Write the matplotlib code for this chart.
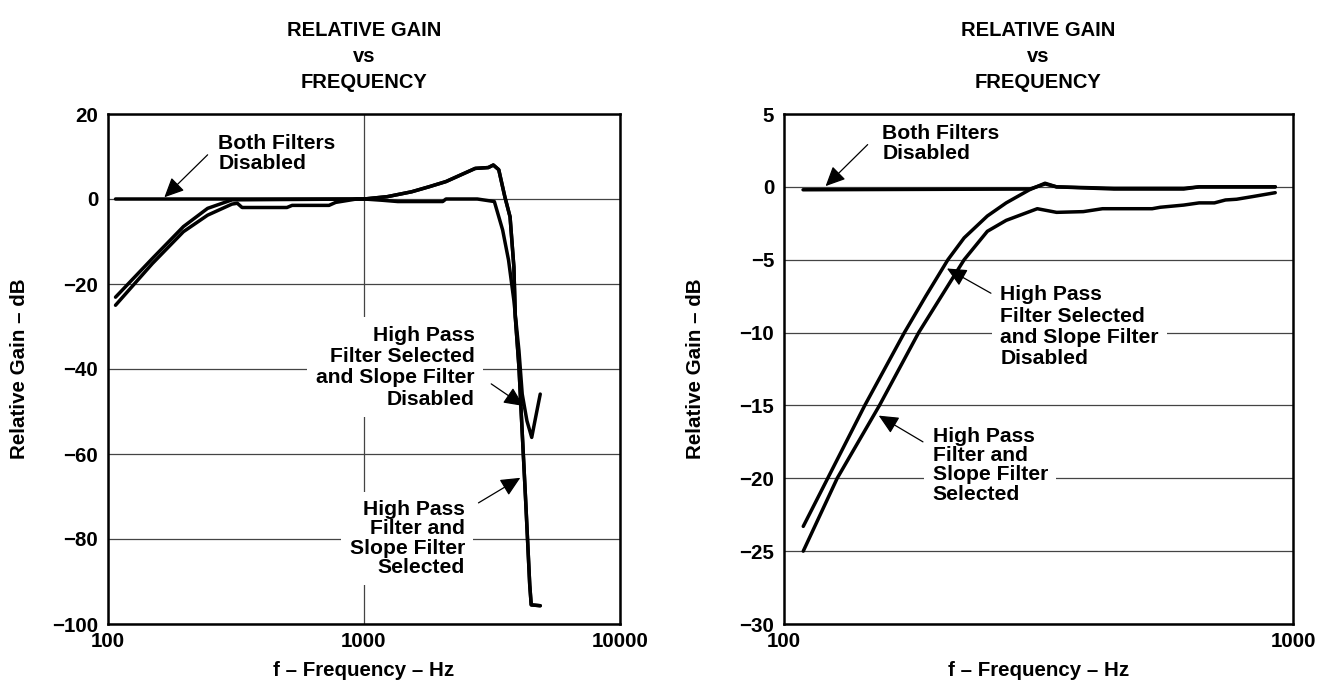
import numpy as np
import matplotlib
matplotlib.use("Agg")
import matplotlib.pyplot as plt
from matplotlib.ticker import NullLocator

plt.rcParams['font.family'] = ['Liberation Sans', 'DejaVu Sans']
plt.rcParams['font.weight'] = 'bold'
plt.rcParams['axes.labelweight'] = 'bold'

# ---- left chart: 100 Hz .. 10 kHz ----
left_both_f = [107, 1000, 1233, 1535, 1800, 2090, 2720, 3060, 3200, 3360, 3550, 3720,
               3850, 3900, 4030, 4150, 4280, 4440, 4500, 4880]
left_both_g = [0, 0, 0.55, 1.7, 2.9, 4.1, 7.2, 7.4, 8.0, 6.9, 0.5, -4.2,
               -16, -27.8, -39.6, -55, -70.9, -90.8, -95.5, -95.7]

left_hp_f = [107, 149, 197, 245, 305, 1000, 1180, 1355, 2030, 2090, 2770, 3230,
             3480, 3670, 3850, 4030, 4150, 4330, 4520, 4660, 4880]
left_hp_g = [-23.1, -14, -6.5, -2.2, -0.2, 0, -0.3, -0.6, -0.6, 0, 0, -0.6,
             -7.3, -14.4, -23.9, -35.7, -45.9, -52.2, -56.1, -52, -45.9]

left_hps_f = [107, 149, 197, 245, 305, 320, 334, 500, 524, 730, 775, 935, 1000,
              1233, 1535, 1800, 2090, 2720, 3060, 3200, 3360, 3550, 3720,
              3850, 3900, 4030, 4150, 4280, 4440, 4500, 4880]
left_hps_g = [-25, -15.2, -7.7, -3.8, -1.2, -1.0, -2, -2, -1.5, -1.5, -0.8, 0, 0,
              0.55, 1.7, 2.9, 4.1, 7.2, 7.4, 8.0, 6.9, 0.5, -4.2,
              -16, -27.8, -39.6, -55, -70.9, -90.8, -95.5, -95.7]

# ---- right chart: 100 Hz .. 1 kHz ----
right_both_f = [109, 304, 326, 343, 445, 610, 654, 923]
right_both_g = [-0.2, -0.15, 0.2, 0, -0.15, -0.15, 0, 0]

right_hp_f = [109.1, 144.1, 172.4, 189.9, 209.9, 225.9, 250.9, 273.2, 303.6,
              325.7, 343.2, 445, 610, 654, 923]
right_hp_g = [-23.3, -15, -10, -7.5, -5, -3.5, -2, -1.1, -0.2,
              0.25, 0, -0.1, -0.1, 0, 0]

right_hps_f = [109.1, 127.2, 154.0, 183.9, 225.9, 250.9, 273.2, 314.5, 343.2, 387.2,
               422.4, 528.8, 548.6, 610, 654, 700.8, 736.9, 774.8, 832.3, 922.8]
right_hps_g = [-25, -20, -15, -10, -5, -3.05, -2.3, -1.5, -1.75, -1.7,
               -1.5, -1.5, -1.4, -1.25, -1.1, -1.1, -0.9, -0.85, -0.67, -0.4]

label_both = "Both Filters\nDisabled"
label_hp = "High Pass\nFilter Selected\nand Slope Filter\nDisabled"
label_hps = "High Pass\nFilter and\nSlope Filter\nSelected"

FS = 14.8
fig = plt.figure(figsize=(13.19, 6.83), dpi=100)
axL = fig.add_axes([108 / 1319, 59 / 683, 512 / 1319, 510 / 683])
axR = fig.add_axes([784 / 1319, 59 / 683, 509 / 1319, 510 / 683])


def style_axis(ax, xlim, ylim, yticks, xticks, vgrid):
    ax.set_xscale('log')
    ax.set_xlim(*xlim)
    ax.set_ylim(*ylim)
    ax.set_yticks(yticks)
    ax.set_xticks(xticks)
    ax.set_xticklabels([str(t) for t in xticks])
    ax.xaxis.set_minor_locator(NullLocator())
    ax.tick_params(length=0, labelsize=FS)
    ax.tick_params(axis='y', pad=7)
    ax.tick_params(axis='x', pad=6)
    ax.yaxis.grid(True, color='#444444', lw=0.9)
    if vgrid:
        ax.xaxis.grid(True, color='#444444', lw=0.9)
    ax.set_axisbelow(True)
    for s in ax.spines.values():
        s.set_linewidth(1.8)
    ax.set_xlabel("f \u2013 Frequency \u2013 Hz", fontsize=FS)
    ax.set_ylabel("Relative Gain \u2013 dB", fontsize=FS)
    ax.xaxis.set_label_coords(0.5, -0.072)
    ax.yaxis.set_label_coords(-0.155, 0.5)
    ax.set_title("RELATIVE GAIN\nvs\nFREQUENCY", fontsize=14.5, fontweight='bold',
                 linespacing=1.45, pad=19)


def note(ax, text, xy, ha, tip, tail, ls):
    ax.text(xy[0], xy[1], text, ha=ha, va='center', multialignment=ha,
            fontsize=15.2, linespacing=ls, zorder=3,
            bbox=dict(boxstyle='square,pad=0.4', fc='white', ec='none'))
    ax.annotate('', xy=tip, xytext=tail, zorder=5,
                arrowprops=dict(arrowstyle='-|>,head_length=0.6,head_width=0.28',
                                color='black', lw=0.9, mutation_scale=20,
                                shrinkA=0, shrinkB=0))


line_kw = dict(color='black', lw=2.5, solid_joinstyle='round', solid_capstyle='round', zorder=4)

# left
style_axis(axL, (100, 10000), (-100, 20), range(-100, 21, 20), [100, 1000, 10000], True)
axL.plot(left_both_f, left_both_g, **line_kw)
axL.plot(left_hp_f, left_hp_g, **line_kw)
axL.plot(left_hps_f, left_hps_g, **line_kw)
note(axL, label_both, (270, 10.7), 'left', (166, 0.4), (245, 10.4), 1.07)
note(axL, label_hp, (2700, -39.6), 'right', (4200, -48.7), (3140, -43.5), 1.15)
note(axL, label_hps, (2480, -79.9), 'right', (4080, -65.6), (2800, -71.5), 1.02)

# right
style_axis(axR, (100, 1000), (-30, 5), range(-30, 6, 5), [100, 1000], False)
axR.plot(right_both_f, right_both_g, **line_kw)
axR.plot(right_hp_f, right_hp_g, **line_kw)
axR.plot(right_hps_f, right_hps_g, **line_kw)
note(axR, label_both, (156, 2.95), 'left', (120.7, 0.05), (146, 2.9), 1.07)
note(axR, label_hp, (266, -9.6), 'left', (209, -5.6), (255, -7.3), 1.15)
note(axR, label_hps, (196, -19.1), 'left', (153.5, -15.7), (187.5, -17.5), 1.02)

fig.savefig("out.png", dpi=100)
